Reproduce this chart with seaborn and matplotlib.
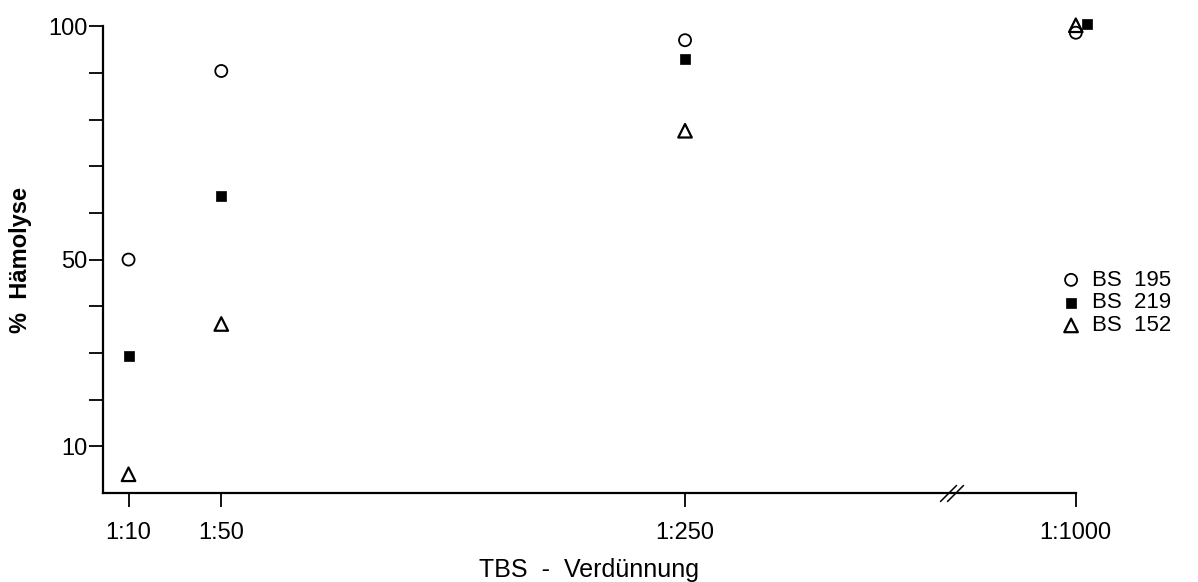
import numpy as np
import pandas as pd
import matplotlib
matplotlib.use("Agg")
import matplotlib.pyplot as plt
import matplotlib.transforms as mtransforms
from matplotlib.ticker import FixedLocator, FixedFormatter
import seaborn as sns

# data
dilutions = [10, 50, 250, 1000]
dilution_labels = ["1:10", "1:50", "1:250", "1:1000"]
bs195 = [50.0, 90.4, 97.0, 98.6]
bs219 = [29.3, 63.6, 92.9, 100.5]
bs152 = [4.0, 36.2, 77.6, 100.2]

sns.set_style("ticks")
plt.rcParams['font.family'] = ['Liberation Sans', 'DejaVu Sans']
plt.rcParams.update({"text.color": "black", "axes.labelcolor": "black",
                     "xtick.color": "black", "ytick.color": "black",
                     "axes.edgecolor": "black"})

# broken x axis: linear up to 1:250, compressed afterwards
K = 0.2247


def fwd(x):
    x = np.asarray(x, dtype=float)
    return np.where(x <= 250, x, 250 + (x - 250) * K)


def inv(y):
    y = np.asarray(y, dtype=float)
    return np.where(y <= 250, y, 250 + (y - 250) / K)


series = {
    "BS  195": dict(values=bs195, marker="o", fc="none", s=75, lw=1.3),
    "BS  219": dict(values=bs219, marker="s", fc="black", s=42, lw=0.5),
    "BS  152": dict(values=bs152, marker="^", fc="none", s=95, lw=1.6),
}

df = pd.concat(
    [pd.DataFrame({"dilution": dilutions, "hemolysis": v["values"], "serum": name})
     for name, v in series.items()],
    ignore_index=True,
)

fig = plt.figure(figsize=(11.98, 5.82), dpi=100)
ax = fig.add_axes([0.086, 0.153, 0.812, 0.802])
ax.set_xscale("function", functions=(fwd, inv))

for name, st in series.items():
    sub = df[df["serum"] == name]
    # square at 1:1000 is drawn slightly right of the others in the original
    nudge = name == "BS  219"
    main = sub[sub["dilution"] < 1000] if nudge else sub
    sns.scatterplot(data=main, x="dilution", y="hemolysis", ax=ax, marker=st["marker"],
                    s=st["s"], facecolor=st["fc"], edgecolor="black", linewidth=st["lw"],
                    label=name, clip_on=False, zorder=3)
    if nudge:
        sns.scatterplot(data=sub[sub["dilution"] == 1000], x="dilution", y="hemolysis", ax=ax,
                        marker=st["marker"], s=st["s"], facecolor=st["fc"], edgecolor="black",
                        linewidth=st["lw"], legend=False, clip_on=False, zorder=3)
        coll = ax.collections[-1]
        coll.set_offset_transform(ax.transData + mtransforms.ScaledTranslation(0.11, 0, fig.dpi_scale_trans))

ax.set_xlim(-1, 1000)
ax.set_ylim(0, 100)
ax.xaxis.set_major_locator(FixedLocator(dilutions))
ax.xaxis.set_major_formatter(FixedFormatter(dilution_labels))
ax.xaxis.set_minor_locator(FixedLocator([]))
yt = list(range(10, 101, 10))
ax.yaxis.set_major_locator(FixedLocator(yt))
ax.yaxis.set_major_formatter(FixedFormatter([str(t) if t in (10, 50, 100) else "" for t in yt]))

sns.despine(ax=ax)
for sp in ("left", "bottom"):
    ax.spines[sp].set_linewidth(1.6)
ax.tick_params(axis="both", direction="out", width=1.3, length=10, labelsize=17,
               color="black", labelcolor="black")
ax.tick_params(axis="x", pad=11)
ax.tick_params(axis="y", pad=1)

ax.set_xlabel("TBS  -  Verdünnung", fontsize=18, labelpad=10, color="black")
ax.set_ylabel("%  Hämolyse", fontsize=17, fontweight="bold", labelpad=12, color="black")

# break marks on the x axis
for xb in (0.869, 0.876):
    ax.plot([xb], [0], transform=ax.transAxes, marker=[(-1, -1), (1, 1)], markersize=12,
            color="black", mew=1.1, clip_on=False, zorder=4)

leg = ax.legend(loc="center left", bbox_to_anchor=(0.986, 0.407), frameon=False, fontsize=16,
                borderpad=0, borderaxespad=0, handlelength=0.8, handletextpad=0.55,
                labelspacing=0.08)
for h in leg.legend_handles:
    h.set_edgecolor("black")
for t in leg.get_texts():
    t.set_color("black")

fig.savefig("out.png", dpi=100)
